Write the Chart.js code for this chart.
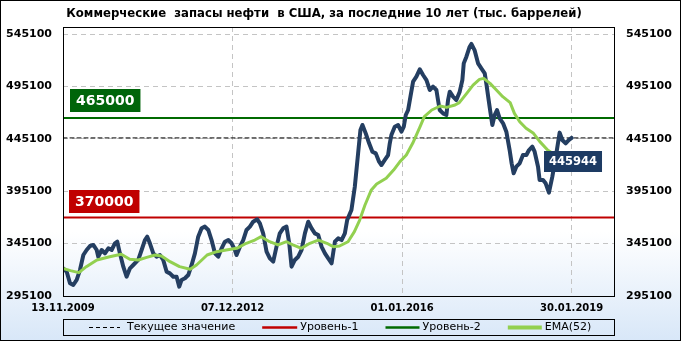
<!DOCTYPE html>
<html><head><meta charset="utf-8">
<script src="https://cdn.jsdelivr.net/npm/chart.js@4/dist/chart.umd.min.js"></script>
<style>html,body{margin:0;padding:0;background:#fff}#wrap{width:681px;height:341px;position:relative}</style>
</head><body><div id="wrap"><canvas id="c" width="681" height="341"></canvas></div>
<script>
const titleText = "Коммерческие  запасы нефти  в США, за последние 10 лет (тыс. баррелей)";
const xTickPositions = [0, 160, 320, 480];
const xTickLabels = ["13.11.2009", "07.12.2012", "01.01.2016", "30.01.2019"];
const yTicks = [295100, 345100, 395100, 445100, 495100, 545100];
const level1 = 370000;
const level2 = 465000;
const currentValue = 445944;
const legendLabels = ["Текущее значение", "Уровень-1", "Уровень-2", "EMA(52)"];

const stockWeeks = [0,3.5,6.6,9.7,12.9,16,19.2,22.3,25.5,28.6,31.8,33.3,36.5,39.6,42.8,45.9,49,51.2,53.7,56.9,60,63.2,66.3,71,74.2,77.3,79.5,82,85.2,88.3,91.5,94.6,97.8,100.9,104.1,107.2,109.7,111.9,115.1,118.2,121.4,124.5,127.6,130.8,133.9,137.1,140.2,143.4,146.5,149.7,152.8,156,159.1,162.2,163.8,167,170.1,173.2,176.4,179.5,183.3,185.8,188.9,192.1,195.2,198.4,201.5,204.6,207.8,210.9,213.5,215.7,218.8,222,225.1,228.3,231.4,234.6,237.7,240.9,244,247.2,250.3,253.5,256.6,259.7,262.9,266,268.2,272.2,275.4,278.5,280.7,282.6,285.7,288.9,292,295.2,298.3,300.5,303.7,306.8,308.4,309.9,313.1,316.2,319.4,321.6,323.5,325.7,327.9,330.4,333.5,336.7,339.8,343,346.1,349.2,352.4,353.9,355.5,358.7,361.8,363.4,365,368.1,371.2,374.4,376.9,378.2,380.7,383.8,385.4,388.4,391.7,394.8,398,399.5,401.7,403.3,405.2,407.4,409.6,412.1,415.3,418.4,421.5,423.4,425.3,427.8,431,434.1,437.3,439.8,442.9,445.1,448.3,449.8,453,455.5,458.6,461.8,464,465.6,468.7,471.2,474.4,477.5,480];
const stockValues = [321500,318300,307200,305600,310400,319900,334200,339000,342800,343800,339000,332600,339000,335800,340600,339000,345400,346900,335800,323100,313500,321500,324700,329500,339000,348500,351700,345400,335800,332600,334200,329500,318300,316700,313500,313500,304000,310400,312000,315100,324700,335800,351700,359700,361300,358100,348500,335800,332600,340600,346900,348500,345400,339000,334200,342200,348500,358100,361300,366000,368300,364400,354900,337400,331000,327900,342200,354900,359700,361300,345400,323100,329500,332600,339000,354900,366000,359700,354900,353300,342200,335800,331000,326300,346900,350100,348500,354900,367600,377200,399400,431200,453500,458300,450300,440800,432800,431200,423300,420100,424900,429600,440800,448700,456700,458300,451900,456700,467800,472600,485300,499600,504400,511400,506000,501200,491700,494900,491700,482100,472600,469400,467800,482100,490100,485300,482100,490100,501200,517100,523500,533000,535600,529800,517100,512300,507600,498000,482100,471000,458300,467800,472600,464600,459900,451900,434400,421700,412200,418500,421700,429600,429600,434400,437600,432800,418500,405800,405800,402600,393700,409000,421700,431200,451000,444000,440800,444000,445944];

const emaWeeks = [0,7,15,22,32,44,55,63,71,79,87,93,101,110,120,126,136,145,154,164,173,181,187,195,203,211,217,225,233,241,249,255,261,269,275,280,285,291,296,305,312,318,324,330,337,341,348,356,362,370,374,381,387,393,397,403,409,415,422,426,431,437,444,450,458,466,473,480];
const emaValues = [321500,319300,317400,323100,329500,332600,334900,330100,329500,332000,334200,333300,327900,323100,320600,324700,334200,337400,339000,340600,345400,348500,351700,346900,343800,346900,343800,340600,345400,348500,345400,342200,342800,346900,356500,367600,381900,396300,402000,407400,415300,423300,429600,440800,456700,466200,472600,476400,475100,477300,479600,488500,496400,501800,502800,498000,491700,485300,479600,469400,461400,455100,450300,442400,433800,429000,428500,430000];

const X_MAX = 520, Y_MIN = 295100, Y_MAX = 551800;
const NAVY = '#243e61', EMA_C = '#92d050', RED = '#c00000', GREEN = '#006a00';
const FONT = '"DejaVu Sans", Verdana, sans-serif';

const pts = (xs, ys) => xs.map((x, i) => ({x, y: ys[i]}));
const hline = v => [{x: 0, y: v}, {x: X_MAX, y: v}];

function box(ctx, text, cx, top, font, bg, padX, h, leftAligned) {
  ctx.font = font;
  const w = ctx.measureText(text).width + padX * 2;
  const left = leftAligned ? cx : Math.round(cx - w / 2);
  ctx.fillStyle = bg;
  ctx.fillRect(left, top, w, h);
  ctx.fillStyle = '#fff';
  ctx.textAlign = 'center';
  ctx.textBaseline = 'middle';
  ctx.fillText(text, left + w / 2, top + h / 2 + 1);
}

const decor = {
  id: 'decor',
  beforeDraw(chart) {
    const ctx = chart.ctx;
    const g = ctx.createLinearGradient(0, 0, 0, chart.height);
    g.addColorStop(0, '#ffffff');
    g.addColorStop(0.68, '#ffffff');
    g.addColorStop(1, '#d8e7f8');
    ctx.save();
    ctx.fillStyle = g;
    ctx.fillRect(0, 0, chart.width, chart.height);
    ctx.restore();
  },
  afterDatasetsDraw(chart) {
    const ctx = chart.ctx, ys = chart.scales.y, xs = chart.scales.x, a = chart.chartArea;
    ctx.save();
    const bf = 'bold 14px ' + FONT;
    box(ctx, String(level2), a.left + 7, Math.round(ys.getPixelForValue(level2)) - 29, bf, '#00650a', 6, 23, true);
    box(ctx, String(level1), a.left + 6, Math.round(ys.getPixelForValue(level1)) - 28, bf, '#c00000', 6, 23, true);
    const lx = xs.getPixelForValue(stockWeeks[stockWeeks.length - 1]);
    const ly = ys.getPixelForValue(currentValue);
    box(ctx, String(currentValue), lx + 1, Math.round(ly) + 13, 'bold 11.5px ' + FONT, '#1d3b63', 5, 21, false);
    ctx.restore();
  },
  afterDraw(chart) {
    const ctx = chart.ctx, a = chart.chartArea;
    ctx.save();
    // plot frame
    ctx.strokeStyle = '#000';
    ctx.lineWidth = 1;
    ctx.setLineDash([]);
    ctx.strokeRect(a.left + 0.5, a.top + 0.5, a.right - a.left, a.bottom - a.top);
    // title
    let fs = 12;
    ctx.font = 'bold ' + fs + 'px ' + FONT;
    fs = fs * 516 / ctx.measureText(titleText).width;
    ctx.font = 'bold ' + fs.toFixed(2) + 'px ' + FONT;
    ctx.fillStyle = '#000';
    ctx.textAlign = 'center';
    ctx.textBaseline = 'middle';
    ctx.fillText(titleText, 324, 14);
    // legend
    ctx.strokeRect(63.5, 319.5, 551, 16);
    ctx.font = '11px ' + FONT;
    ctx.textAlign = 'left';
    const styles = [
      {c: '#000', w: 1, d: [4, 3], len: 31, gap: 7},
      {c: RED, w: 2.5, d: [], len: 35, gap: 3},
      {c: GREEN, w: 2.5, d: [], len: 34, gap: 3},
      {c: EMA_C, w: 4, d: [], len: 34, gap: 3}
    ];
    let x = 89;
    const cy = 327.5;
    legendLabels.forEach((t, i) => {
      const s = styles[i];
      ctx.beginPath();
      ctx.strokeStyle = s.c; ctx.lineWidth = s.w; ctx.setLineDash(s.d);
      ctx.moveTo(x, cy); ctx.lineTo(x + s.len, cy); ctx.stroke();
      ctx.setLineDash([]);
      ctx.fillStyle = '#000';
      ctx.fillText(t, x + s.len + s.gap, cy);
      x = x + s.len + s.gap + ctx.measureText(t).width + 27;
    });
    // outer frame
    ctx.strokeStyle = '#000';
    ctx.lineWidth = 1;
    ctx.strokeRect(0.5, 0.5, chart.width - 1, chart.height - 1);
    ctx.restore();
  }
};

const gridCommon = {color: '#c4c4c4', lineWidth: 1, drawTicks: false};
const yScale = (pos, showGrid) => ({
  type: 'linear', position: pos, min: Y_MIN, max: Y_MAX,
  afterBuildTicks: s => { s.ticks = yTicks.map(v => ({value: v})); },
  afterFit: s => { s.width = pos === 'left' ? 63 : 67; },
  grid: Object.assign({display: showGrid}, gridCommon),
  border: {display: false, dash: [5, 4]},
  ticks: {color: '#000', font: {family: FONT, size: 11, weight: 'bold'}, padding: pos === 'left' ? 11 : 12, callback: v => String(v), autoSkip: false}
});

new Chart(document.getElementById('c'), {
  type: 'line',
  data: {
    datasets: [
      {label: 'EMA(52)', data: pts(emaWeeks, emaValues), borderColor: EMA_C, borderWidth: 3, yAxisID: 'y'},
      {label: 'Запасы', data: pts(stockWeeks, stockValues), borderColor: NAVY, borderWidth: 4, yAxisID: 'y'},
      {label: 'Текущее значение', data: hline(currentValue), borderColor: '#000', borderWidth: 1, borderDash: [4, 3], yAxisID: 'y'},
      {label: 'Уровень-2', data: hline(level2), borderColor: GREEN, borderWidth: 2, yAxisID: 'y'},
      {label: 'Уровень-1', data: hline(level1), borderColor: RED, borderWidth: 2, yAxisID: 'y'}
    ]
  },
  options: {
    responsive: false, animation: false, devicePixelRatio: 1,
    parsing: true,
    elements: {point: {radius: 0, hoverRadius: 0}, line: {tension: 0, fill: false, borderJoinStyle: 'round', borderCapStyle: 'round'}},
    layout: {padding: {top: 27, left: 0, right: 0, bottom: 0}},
    plugins: {legend: {display: false}, title: {display: false}, tooltip: {enabled: false}},
    scales: {
      x: {
        type: 'linear', min: 0, max: X_MAX,
        afterBuildTicks: s => { s.ticks = xTickPositions.map(v => ({value: v})); },
        afterFit: s => { s.height = 45; },
        grid: Object.assign({}, gridCommon),
        border: {display: false, dash: [5, 4]},
        ticks: {color: '#000', font: {family: FONT, size: 10, weight: 'bold'}, padding: 6, maxRotation: 0, autoSkip: false,
          callback: v => xTickLabels[xTickPositions.indexOf(v)]}
      },
      y: yScale('left', true),
      y2: yScale('right', false)
    }
  },
  plugins: [decor]
});
</script></body></html>
